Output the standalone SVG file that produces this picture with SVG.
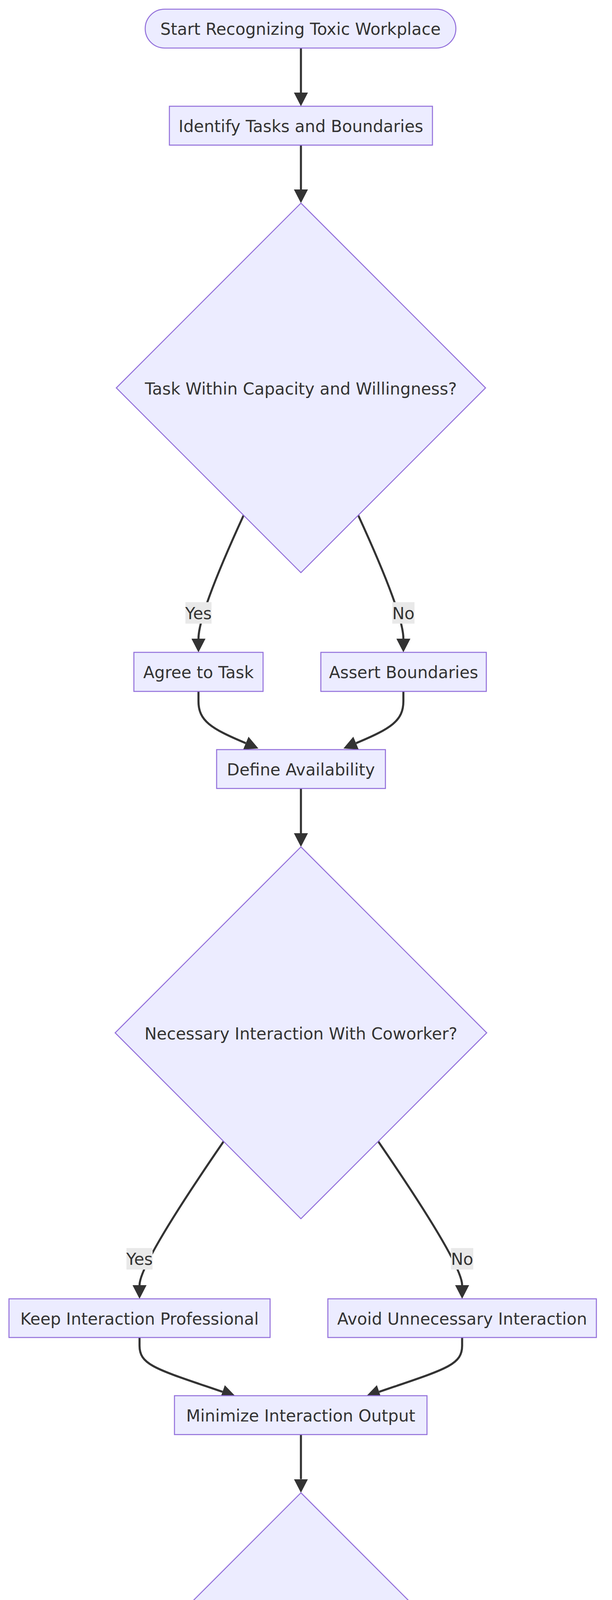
<svg xmlns="http://www.w3.org/2000/svg" width="1568" height="6810" viewBox="0 0 1568 6810">
<style>
  .node rect, .node polygon { fill: #ECECFF; stroke: #9370DB; stroke-width: 2.6; }
  .node text, .elabel text { font-family: "DejaVu Sans", "Liberation Sans", sans-serif; font-size: 42px; fill: #333333; text-anchor: middle; }
  .edge { fill: none; stroke: #333333; stroke-width: 5.3; marker-end: url(#arrow); }
  .elabel rect { fill: #E9E9E9; stroke: none; }
</style>
<defs>
  <marker id="arrow" viewBox="0 0 35 36" markerUnits="userSpaceOnUse" markerWidth="35" markerHeight="36" refX="0" refY="18" orient="auto">
    <path d="M0,0 L35,18 L0,36 z" fill="#333333"/>
  </marker>
</defs>
<rect x="0" y="0" width="1568" height="6810" fill="#FFFFFF"/>
<g id="connectors">
  <path class="edge" d="M771,123 L771,237"/>
  <path class="edge" d="M771,371.5 L771,485"/>
  <path class="edge" d="M624,1319.5 Q508.5,1571 508.5,1635"/>
  <path class="edge" d="M918,1319.5 Q1033.5,1571 1033.5,1635"/>
  <path class="edge" d="M508.5,1770 L508.5,1795 C508.5,1845 540,1865 629.7,1902.5"/>
  <path class="edge" d="M1033.5,1770 L1033.5,1795 C1033.5,1845 1002,1865 912.3,1902.5"/>
  <path class="edge" d="M771,2018.5 L771,2133"/>
  <path class="edge" d="M573,2922 Q357.5,3235 357.5,3290"/>
  <path class="edge" d="M969,2922 Q1184,3235 1184,3290"/>
  <path class="edge" d="M357.5,3424 L357.5,3445 C357.5,3495 400,3505 570,3563"/>
  <path class="edge" d="M1184,3424 L1184,3445 C1184,3495 1141.5,3505 971.5,3563"/>
  <path class="edge" d="M771,3672.5 L771,3786.5"/>
  <path class="edge" d="M640,4291.5 Q457,4536 457,4592"/>
  <path class="edge" d="M902,4291.5 Q1085,4536 1085,4592"/>
  <path class="edge" d="M457,4726 L457,4745 C457,4795 490,4815 613,4863"/>
  <path class="edge" d="M1085,4726 L1085,4745 C1085,4795 1052,4815 929,4863"/>
  <path class="edge" d="M771,4974 L771,5088"/>
  <path class="edge" d="M771,5222 L771,5337"/>
  <path class="edge" d="M771,5471 L771,5585.5"/>
  <path class="edge" d="M771,5720 L771,5834"/>
  <path class="edge" d="M771,5968 L771,6083"/>
  <path class="edge" d="M771,6217 L771,6332"/>
  <path class="edge" d="M771,6466 L771,6580"/>
</g>
<g id="edge-labels">
  <g class="elabel" id="label-yes-1"><rect x="475" y="1541.5" width="67" height="55"/><text x="508.5" y="1585">Yes</text></g>
  <g class="elabel" id="label-no-1"><rect x="1005" y="1541.5" width="57" height="55"/><text x="1033.5" y="1585">No</text></g>
  <g class="elabel" id="label-yes-2"><rect x="324" y="3195" width="67" height="55"/><text x="357.5" y="3238">Yes</text></g>
  <g class="elabel" id="label-no-2"><rect x="1155.5" y="3195" width="57" height="55"/><text x="1184" y="3238">No</text></g>
  <g class="elabel" id="label-yes-3"><rect x="423.5" y="4497" width="67" height="55"/><text x="457" y="4540.5">Yes</text></g>
  <g class="elabel" id="label-no-3"><rect x="1056.5" y="4497" width="57" height="55"/><text x="1085" y="4540.5">No</text></g>
</g>
<g id="nodes">
  <g class="node" id="start"><rect x="372" y="23.5" width="796" height="99.5" rx="49.75" ry="49.75"/><text x="770" y="89">Start Recognizing Toxic Workplace</text></g>
  <g class="node" id="identify-tasks"><rect x="434" y="272" width="674" height="99.5"/><text x="771" y="338">Identify Tasks and Boundaries</text></g>
  <g class="node" id="task-capacity"><polygon points="771,520 1244,993 771,1466 298,993"/><text x="771" y="1009.5">Task Within Capacity and Willingness?</text></g>
  <g class="node" id="agree-task"><rect x="343" y="1670" width="331" height="100"/><text x="508.5" y="1736">Agree to Task</text></g>
  <g class="node" id="assert-boundaries"><rect x="822" y="1670" width="424" height="100"/><text x="1034" y="1736">Assert Boundaries</text></g>
  <g class="node" id="define-availability"><rect x="555" y="1919" width="432.5" height="99.5"/><text x="771" y="1985">Define Availability</text></g>
  <g class="node" id="necessary-interaction"><polygon points="771,2168 1247,2644 771,3120 295,2644"/><text x="771" y="2660.5">Necessary Interaction With Coworker?</text></g>
  <g class="node" id="keep-professional"><rect x="23" y="3325" width="669" height="99"/><text x="357.5" y="3390.5">Keep Interaction Professional</text></g>
  <g class="node" id="avoid-unnecessary"><rect x="840" y="3325" width="688" height="99"/><text x="1184" y="3390.5">Avoid Unnecessary Interaction</text></g>
  <g class="node" id="minimize-output"><rect x="447" y="3573" width="647" height="99.5"/><text x="770.5" y="3639">Minimize Interaction Output</text></g>
  <g class="node" id="participate-gossip"><polygon points="771,3821.5 1071,4121.5 771,4421.5 471,4121.5"/><text x="771" y="4138">Participate in Gossip?</text></g>
  <g class="node" id="path-not-chosen"><rect x="209" y="4627" width="496" height="99"/><text x="457" y="4692.5">This Path Not Chosen</text></g>
  <g class="node" id="refrain-gossip"><rect x="853" y="4627" width="464" height="99"/><text x="1085" y="4692.5">Refrain from Gossip</text></g>
  <g class="node" id="avoid-gossip-output"><rect x="535" y="4875" width="472" height="99"/><text x="771" y="4940.5">Avoid Gossip Output</text></g>
  <g class="node" id="provide-compliments"><rect x="224" y="5123" width="1094" height="99"/><text x="771" y="5188.5">Provide Compliments and Positive Reinforcement</text></g>
  <g class="node" id="identify-opportunity"><rect x="394" y="5372" width="754" height="99"/><text x="771" y="5437.5">Identify Compliment Opportunity</text></g>
  <g class="node" id="give-compliment"><rect x="564" y="5620.5" width="413.5" height="99.5"/><text x="771" y="5686.5">Give Compliment</text></g>
  <g class="node" id="compliment-boss"><rect x="375" y="5869" width="792" height="99"/><text x="771" y="5934.5">Compliment Your Boss Productively</text></g>
  <g class="node" id="acknowledge-efforts"><rect x="464" y="6118" width="614" height="99"/><text x="771" y="6183.5">Acknowledge Boss's Efforts</text></g>
  <g class="node" id="boss-compliment-output"><rect x="485" y="6367" width="572" height="99"/><text x="771" y="6432.5">Boss Compliment Output</text></g>
  <g class="node" id="end"><rect x="418" y="6615" width="706" height="100" rx="50" ry="50"/><text x="771" y="6681">End Handling Toxic Workplace</text></g>
</g>
</svg>
